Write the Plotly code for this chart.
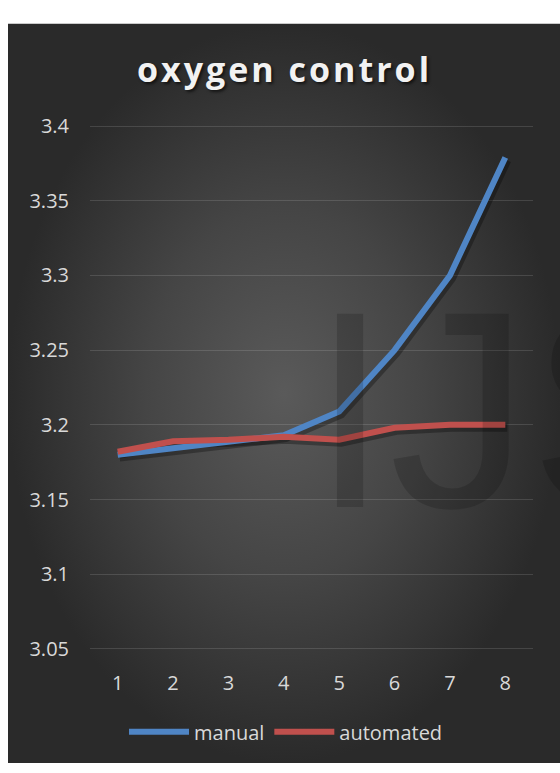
import plotly.graph_objects as go

# ---- data ----
categories = [1, 2, 3, 4, 5, 6, 7, 8]
x_labels = ["1", "2", "3", "4", "5", "6", "7", "8"]
manual = [3.180, 3.184, 3.188, 3.193, 3.209, 3.250, 3.300, 3.379]
automated = [3.182, 3.189, 3.190, 3.192, 3.190, 3.198, 3.200, 3.200]
y_ticks = [3.05, 3.10, 3.15, 3.20, 3.25, 3.30, 3.35, 3.40]
y_labels = ["3.05", "3.1", "3.15", "3.2", "3.25", "3.3", "3.35", "3.4"]
series_names = ["manual", "automated"]
series_colors = ["#4F85C5", "#C0504D"]

W, H = 560, 773
FONT = "Open Sans"
TICK_COLOR = "#d9d9d9"

fig = go.Figure()

# background panel with radial gradient (pixel-space helper axes)
fig.add_trace(go.Scatter(
    x=[8, W, W, 8, 8], y=[13, 13, H, H, 13],
    mode="lines", line=dict(width=0), fill="toself",
    fillgradient=dict(type="radial",
                      colorscale=[[0, "#5a5a5a"], [0.5, "#454545"], [1, "#2a2a2a"]]),
    xaxis="x", yaxis="y", showlegend=False, hoverinfo="skip"))

# soft shadows of the lines (on shifted helper axes)
for vals in (manual, automated):
    fig.add_trace(go.Scatter(
        x=categories, y=vals, mode="lines",
        line=dict(color="rgba(0,0,0,0.3)", width=8),
        xaxis="x2", yaxis="y2", showlegend=False, hoverinfo="skip"))

# data lines
for name, vals, col in zip(series_names, (manual, automated), series_colors):
    fig.add_trace(go.Scatter(
        x=categories, y=vals, mode="lines", name=name,
        line=dict(color=col, width=6),
        xaxis="x3", yaxis="y3"))

PX_PER_UNIT = (655.7 - 118.3) / 0.35
pad = 3  # px of extra room so the edge gridlines are drawn
ypad = pad / PX_PER_UNIT
x_dom = [90 / W, 533 / W]
y_dom = [1 - (655.7 + pad) / H, 1 - (118.3 - pad) / H]
dx = 2 / 55.4
dy = 3 / PX_PER_UNIT
y_lo, y_hi = 3.05 - ypad, 3.40 + ypad

fig.update_layout(
    width=W, height=H,
    margin=dict(l=0, r=0, t=0, b=0),
    paper_bgcolor="white",
    plot_bgcolor="rgba(0,0,0,0)",
    xaxis=dict(domain=[0, 1], range=[0, W], visible=False, fixedrange=True),
    yaxis=dict(domain=[0, 1], range=[H, 0], visible=False, fixedrange=True),
    xaxis2=dict(domain=x_dom, range=[0.5 - dx, 8.5 - dx], visible=False, anchor="y2"),
    yaxis2=dict(domain=y_dom, range=[y_lo + dy, y_hi + dy], visible=False, anchor="x2"),
    xaxis3=dict(overlaying="x2", anchor="y3", range=[0.5, 8.5],
                tickmode="array", tickvals=categories, ticktext=x_labels,
                showgrid=False, zeroline=False, showline=False, ticks="",
                ticklabelstandoff=17,
                tickfont=dict(family=FONT, size=20, color=TICK_COLOR)),
    yaxis3=dict(overlaying="y2", anchor="x3", range=[y_lo, y_hi],
                tickmode="array", tickvals=y_ticks, ticktext=y_labels,
                showgrid=True, gridcolor="rgba(255,255,255,0.13)", gridwidth=1.3,
                zeroline=False, showline=False, ticks="",
                ticklabelstandoff=20,
                tickfont=dict(family=FONT, size=20, color=TICK_COLOR)),
    showlegend=True,
    legend=dict(orientation="h", x=286 / W, xanchor="center",
                y=1 - 741 / H, yanchor="middle",
                font=dict(family=FONT, size=20, color=TICK_COLOR),
                bgcolor="rgba(0,0,0,0)", itemwidth=60),
    annotations=[
        dict(text="IJS", x=309 / W, xanchor="left", y=1 - 410 / H, yanchor="middle",
             xref="paper", yref="paper", showarrow=False,
             font=dict(family="Liberation Sans", size=281, color="rgba(0,0,0,0.16)")),
        dict(text='<span style="letter-spacing:3px">oxygen control</span>',
             x=284 / W, xanchor="center", y=1 - 60 / H, yanchor="middle",
             xref="paper", yref="paper", showarrow=False,
             font=dict(family=FONT, size=34, color="#f2f2f2", weight="bold",
                       shadow="2px 2px 3px rgba(0,0,0,0.6)")),
    ],
)

fig.write_html("out.html")
